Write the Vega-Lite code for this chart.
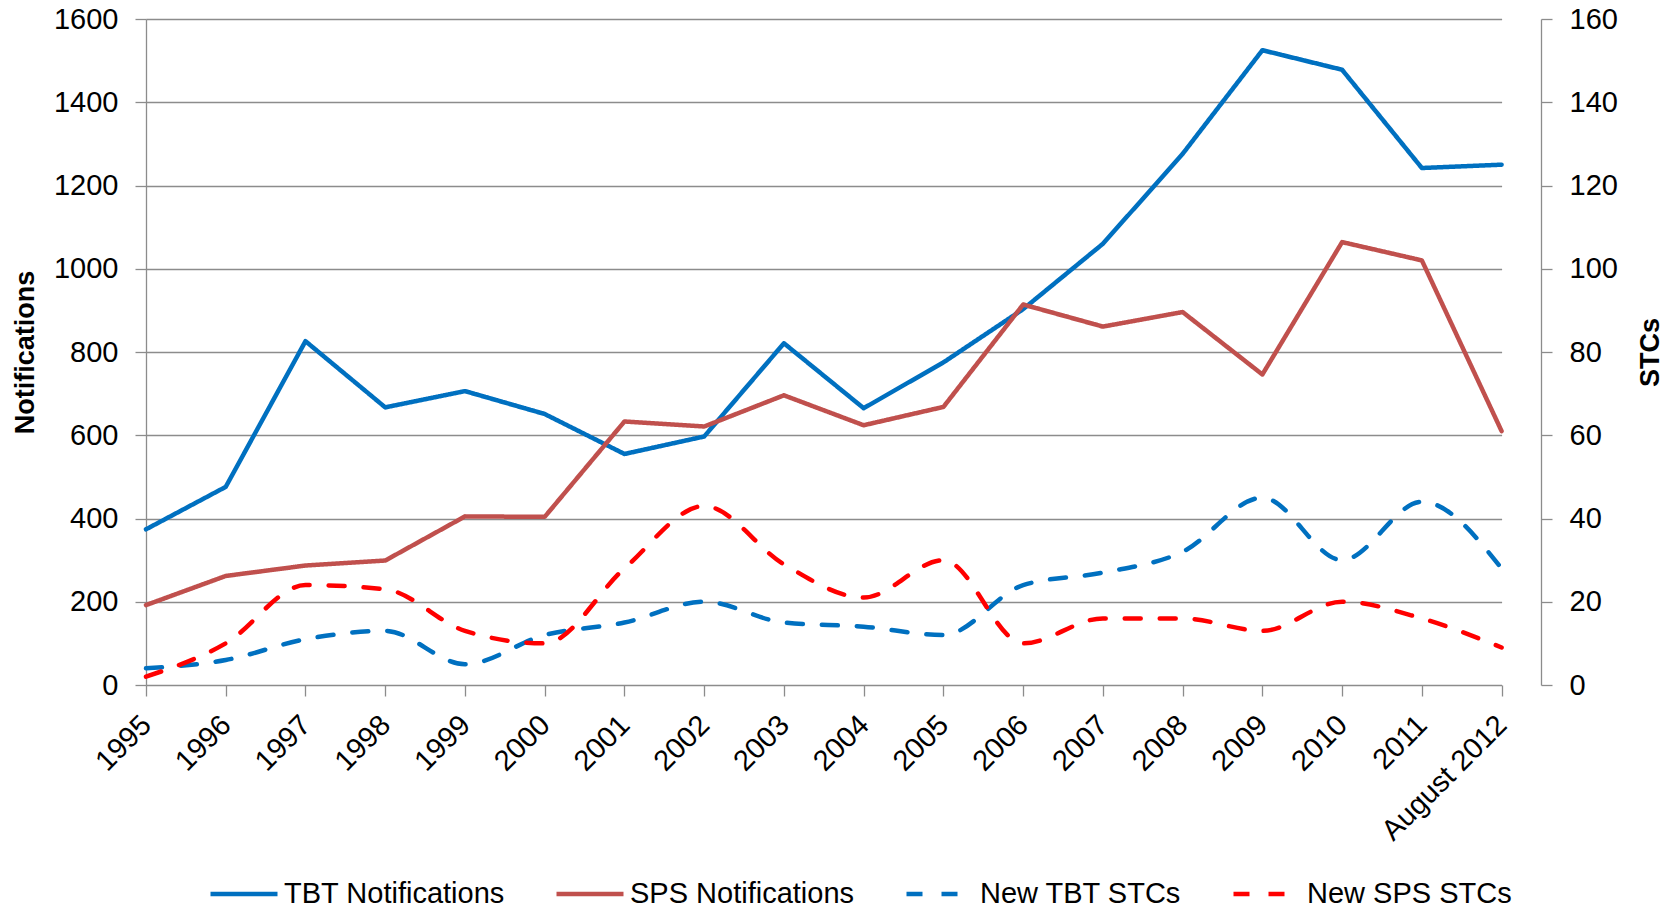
{
  "$schema": "https://vega.github.io/schema/vega-lite/v6.json",
  "width": 1395,
  "height": 666,
  "autosize": {"type": "none"},
  "padding": {"left": 146, "top": 19, "right": 134, "bottom": 226},
  "background": "white",
  "config": {
    "font": "Liberation Sans",
    "view": {"stroke": null},
    "axis": {
      "labelFont": "Liberation Sans",
      "labelFontSize": 29,
      "labelColor": "#000000",
      "titleFont": "Liberation Sans",
      "titleFontSize": 27,
      "titleFontWeight": "bold",
      "titleColor": "#000000",
      "domainColor": "#8c8c8c",
      "domainWidth": 1.3,
      "tickColor": "#8c8c8c",
      "tickWidth": 1.3,
      "tickSize": 11,
      "gridColor": "#8c8c8c",
      "gridWidth": 1.3
    },
    "legend": {
      "labelFont": "Liberation Sans",
      "labelFontSize": 29,
      "labelColor": "#000000",
      "labelLimit": 0
    }
  },
  "data": {
    "values": [
      {"year": "1995", "TBT Notifications": 374, "SPS Notifications": 192, "New TBT STCs": 4, "New SPS STCs": 2},
      {"year": "1996", "TBT Notifications": 476, "SPS Notifications": 262, "New TBT STCs": 6, "New SPS STCs": 10},
      {"year": "1997", "TBT Notifications": 826, "SPS Notifications": 287, "New TBT STCs": 11, "New SPS STCs": 24},
      {"year": "1998", "TBT Notifications": 667, "SPS Notifications": 299, "New TBT STCs": 13, "New SPS STCs": 23},
      {"year": "1999", "TBT Notifications": 706, "SPS Notifications": 405, "New TBT STCs": 5, "New SPS STCs": 13},
      {"year": "2000", "TBT Notifications": 651, "SPS Notifications": 404, "New TBT STCs": 12, "New SPS STCs": 10},
      {"year": "2001", "TBT Notifications": 555, "SPS Notifications": 633, "New TBT STCs": 15, "New SPS STCs": 28},
      {"year": "2002", "TBT Notifications": 597, "SPS Notifications": 621, "New TBT STCs": 20, "New SPS STCs": 43},
      {"year": "2003", "TBT Notifications": 821, "SPS Notifications": 696, "New TBT STCs": 15, "New SPS STCs": 29},
      {"year": "2004", "TBT Notifications": 665, "SPS Notifications": 624, "New TBT STCs": 14, "New SPS STCs": 21},
      {"year": "2005", "TBT Notifications": 775, "SPS Notifications": 668, "New TBT STCs": 12, "New SPS STCs": 30},
      {"year": "2006", "TBT Notifications": 903, "SPS Notifications": 914, "New TBT STCs": 24, "New SPS STCs": 10},
      {"year": "2007", "TBT Notifications": 1060, "SPS Notifications": 861, "New TBT STCs": 27, "New SPS STCs": 16},
      {"year": "2008", "TBT Notifications": 1276, "SPS Notifications": 896, "New TBT STCs": 32, "New SPS STCs": 16},
      {"year": "2009", "TBT Notifications": 1525, "SPS Notifications": 746, "New TBT STCs": 45, "New SPS STCs": 13},
      {"year": "2010", "TBT Notifications": 1478, "SPS Notifications": 1064, "New TBT STCs": 30, "New SPS STCs": 20},
      {"year": "2011", "TBT Notifications": 1242, "SPS Notifications": 1020, "New TBT STCs": 44, "New SPS STCs": 16},
      {"year": "August 2012", "TBT Notifications": 1250, "SPS Notifications": 610, "New TBT STCs": 28, "New SPS STCs": 9}
    ]
  },
  "encoding": {
    "x": {
      "field": "year",
      "type": "ordinal",
      "sort": null,
      "scale": {"type": "point", "padding": 0, "range": [0, 1355.6]},
      "axis": {
        "title": null,
        "domain": false,
        "grid": false,
        "labelAngle": -45,
        "labelAlign": "right",
        "labelBaseline": "middle",
        "labelPadding": 24
      }
    }
  },
  "layer": [
    {
      "transform": [{"fold": ["TBT Notifications", "SPS Notifications"], "as": ["series", "value"]}],
      "mark": {"type": "line", "strokeWidth": 4.5, "strokeCap": "round", "strokeJoin": "round"},
      "encoding": {
        "y": {
          "field": "value",
          "type": "quantitative",
          "scale": {"domain": [0, 1600], "nice": false},
          "axis": {
            "orient": "left",
            "title": "Notifications",
            "format": "d",
            "values": [0, 200, 400, 600, 800, 1000, 1200, 1400, 1600],
            "grid": true,
            "labelPadding": 17,
            "titlePadding": 14
          }
        },
        "color": {
          "field": "series",
          "type": "nominal",
          "scale": {
            "domain": ["TBT Notifications", "SPS Notifications", "New TBT STCs", "New SPS STCs"],
            "range": ["#0070C0", "#C0504D", "#0070C0", "#FF0000"]
          },
          "legend": {
            "title": null,
            "orient": "none",
            "direction": "horizontal",
            "columns": 4,
            "legendX": 62,
            "legendY": 839,
            "symbolType": "stroke",
            "symbolSize": 4489,
            "symbolStrokeWidth": 4.5,
            "labelOffset": 4,
            "columnPadding": 42
          }
        },
        "strokeDash": {
          "field": "series",
          "type": "nominal",
          "scale": {
            "domain": ["TBT Notifications", "SPS Notifications", "New TBT STCs", "New SPS STCs"],
            "range": [[1, 0], [1, 0], [16, 19], [16, 19]]
          },
          "legend": {
            "title": null,
            "orient": "none",
            "direction": "horizontal",
            "columns": 4,
            "legendX": 62,
            "legendY": 839,
            "symbolType": "stroke",
            "symbolSize": 4489,
            "symbolStrokeWidth": 4.5,
            "labelOffset": 4,
            "columnPadding": 42
          }
        }
      }
    },
    {
      "transform": [{"fold": ["New TBT STCs", "New SPS STCs"], "as": ["series", "value"]}],
      "mark": {"type": "line", "strokeWidth": 4.5, "strokeCap": "round", "strokeJoin": "round", "interpolate": "monotone"},
      "encoding": {
        "y": {
          "field": "value",
          "type": "quantitative",
          "scale": {"domain": [0, 160], "nice": false},
          "axis": {
            "orient": "right",
            "title": "STCs",
            "values": [0, 20, 40, 60, 80, 100, 120, 140, 160],
            "grid": false,
            "labelPadding": 17,
            "titleAngle": 270,
            "titlePadding": 47
          }
        },
        "color": {"field": "series", "type": "nominal"},
        "strokeDash": {"field": "series", "type": "nominal"}
      }
    }
  ],
  "resolve": {"scale": {"y": "independent"}}
}
